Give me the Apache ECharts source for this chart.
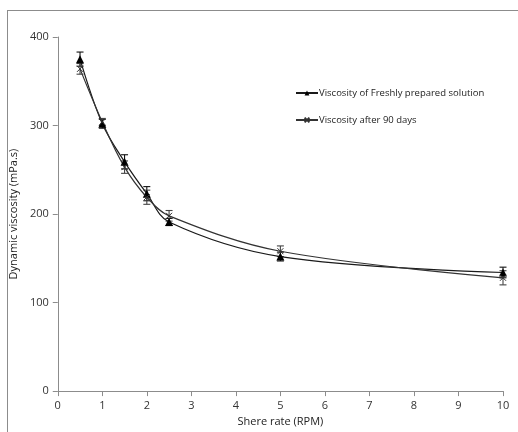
<!DOCTYPE html>
<html><head><meta charset="utf-8">
<script src="https://cdn.jsdelivr.net/npm/echarts@6/dist/echarts.min.js"></script>
<style>html,body{margin:0;padding:0;background:#fff}#c{width:518px;height:432px;position:relative}
#frame{position:absolute;left:7px;top:10px;width:520px;height:430px;border:1px solid #8c8c8c;box-sizing:border-box;pointer-events:none}</style>
</head><body><div id="c"></div><div id="frame"></div>
<script>
const shearRate = [0.5, 1, 1.5, 2, 2.5, 5, 10];
const freshViscosity = [375, 302, 259, 223, 191, 152, 134];
const freshError = [8, 5, 8, 8, 4, 5, 6];
const agedViscosity = [364, 304, 253, 219, 198, 158, 128];
const agedError = [6, 4, 7, 8, 6, 6, 8];
const xTicks = [0, 1, 2, 3, 4, 5, 6, 7, 8, 9, 10];
const yTicks = [0, 100, 200, 300, 400];

const font = 'Open Sans';
const chart = echarts.init(document.getElementById('c'), null, {renderer: 'canvas'});
function errData(vals, errs) { return shearRate.map((x, i) => [x, vals[i] - errs[i], vals[i] + errs[i]]); }
function errSeries(vals, errs, color) {
  return {
    type: 'custom', z: 3, silent: true,
    data: errData(vals, errs),
    renderItem: function (params, api) {
      const lo = api.coord([api.value(0), api.value(1)]);
      const hi = api.coord([api.value(0), api.value(2)]);
      const w = 3.5;
      const st = {stroke: color, lineWidth: 1.1};
      return {type: 'group', children: [
        {type: 'line', shape: {x1: lo[0], y1: lo[1], x2: hi[0], y2: hi[1]}, style: st},
        {type: 'line', shape: {x1: lo[0] - w, y1: lo[1], x2: lo[0] + w, y2: lo[1]}, style: st},
        {type: 'line', shape: {x1: hi[0] - w, y1: hi[1], x2: hi[0] + w, y2: hi[1]}, style: st}
      ]};
    }
  };
}
chart.setOption({
  animation: false,
  backgroundColor: '#fff',
  grid: {left: 52, right: 15, top: 37, bottom: 39},
  legend: {
    left: 290, top: 83, orient: 'vertical', itemGap: 17, itemWidth: 22, itemHeight: 6,
    textStyle: {fontFamily: font, fontSize: 9.5, color: '#222', padding: [0, 0, 0, -4]},
    data: ['Viscosity of Freshly prepared solution', 'Viscosity after 90 days']
  },
  xAxis: {
    type: 'value', min: 0, max: 10, interval: 1,
    name: 'Shere rate (RPM)', nameLocation: 'middle', nameGap: 24,
    nameTextStyle: {fontFamily: font, fontSize: 11, color: '#222'},
    axisLine: {lineStyle: {color: '#8c8c8c'}},
    axisTick: {show: true, length: 5, lineStyle: {color: '#8c8c8c'}},
    axisLabel: {fontFamily: font, fontSize: 11, color: '#333', margin: 9,
      formatter: v => xTicks.includes(v) ? String(v) : ''},
    splitLine: {show: false}
  },
  yAxis: {
    type: 'value', min: 0, max: 400, interval: 100,
    name: 'Dynamic viscosity (mPa.s)', nameLocation: 'middle', nameGap: 30,
    nameTextStyle: {fontFamily: font, fontSize: 11, color: '#222'},
    axisLine: {show: true, lineStyle: {color: '#8c8c8c'}},
    axisTick: {show: true, length: 5, lineStyle: {color: '#8c8c8c'}},
    axisLabel: {fontFamily: font, fontSize: 11, color: '#333', margin: 9,
      formatter: v => yTicks.includes(v) ? String(v) : ''},
    splitLine: {show: false}
  },
  series: [
    {
      name: 'Viscosity of Freshly prepared solution', type: 'line', smooth: 0.35, z: 4,
      data: shearRate.map((x, i) => [x, freshViscosity[i]]),
      symbol: 'triangle', symbolSize: 8,
      lineStyle: {color: '#1a1a1a', width: 1.2},
      itemStyle: {color: '#000'}
    },
    {
      name: 'Viscosity after 90 days', type: 'line', smooth: 0.35, z: 4,
      data: shearRate.map((x, i) => [x, agedViscosity[i]]),
      symbol: 'path://M0,0L10,10M10,0L0,10', symbolSize: 6,
      lineStyle: {color: '#333', width: 1.2},
      itemStyle: {color: 'rgba(0,0,0,0)', borderColor: '#333', borderWidth: 1}
    },
    errSeries(freshViscosity, freshError, '#111'),
    errSeries(agedViscosity, agedError, '#444')
  ]
});
</script></body></html>
